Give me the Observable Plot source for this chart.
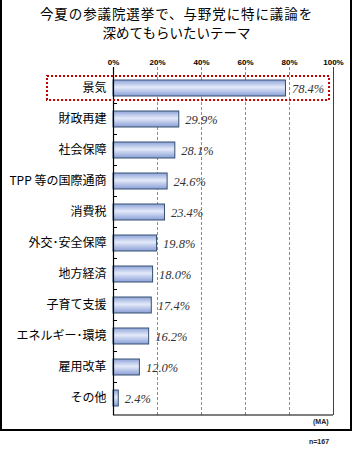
<!DOCTYPE html>
<html><head><meta charset="utf-8">
<script src="https://cdn.jsdelivr.net/npm/d3@7"></script>
<script src="https://cdn.jsdelivr.net/npm/@observablehq/plot@0.6"></script>
<style>
body{margin:0;background:#fff;}
#wrap{position:relative;width:353px;height:451px;font-family:"Noto Sans CJK JP",sans-serif;overflow:hidden;}
#box{position:absolute;left:0;top:-2px;width:352px;height:433px;border:2px solid #000;box-sizing:border-box;}
.title{position:absolute;left:0;width:353px;text-align:center;font-size:13.5px;line-height:19.5px;height:19.5px;color:#000;white-space:nowrap;}
#chart{position:absolute;left:0;top:52px;}
.note{position:absolute;font-family:"Liberation Sans",Arial,sans-serif;font-size:7px;font-weight:bold;color:#222;line-height:8px;}
</style>
</head><body>
<div id="wrap">
  <div id="box"></div>
  <div class="title" style="top:3.75px;letter-spacing:0.9px;">今夏の参議院選挙で、与野党に特に議論を</div>
  <div class="title" style="top:23.25px;">深めてもらいたいテーマ</div>
  <div id="chart"></div>
  <div class="note" id="ma" style="left:313px;top:418px;">(MA)</div>
  <div class="note" id="n" style="left:309px;top:438px;">n=167</div>
</div>
<script>
const categories = ["景気","財政再建","社会保障","TPP 等の国際通商","消費税","外交･安全保障","地方経済","子育て支援","エネルギー･環境","雇用改革","その他"];
const values = [78.4,29.9,28.1,24.6,23.4,19.8,18.0,17.4,16.2,12.0,2.4];
const xTicks = [0,20,40,60,80,100];
const gridTicks = [20,40,60,80];
const highlight = "景気";

const data = categories.map((c,i)=>({category:c,value:values[i]}));

const W = 353, H = 380, MT = 15, MB = 17, ML = 113, MR = 20;

const chart = Plot.plot({
  width: W, height: H, marginTop: MT, marginBottom: MB, marginLeft: ML, marginRight: MR,
  x: {domain: [0,100], axis: null},
  y: {domain: categories, axis: null, paddingInner: 0.49, paddingOuter: 0.245, insetTop: 4.6},
  marks: [
    Plot.ruleX(gridTicks, {stroke: "#8c8c8c", strokeDasharray: "3,2"}),
    Plot.ruleX([100], {stroke: "#404040"}),
    Plot.barX(data, {x: "value", y: "category", fill: "url(#barGrad)", stroke: "#34506f", strokeWidth: 1}),
    Plot.ruleX([0], {stroke: "#000", strokeWidth: 1.2}),
    Plot.text(xTicks, {x: d=>d, frameAnchor: "top", dy: -8, text: d=>d+"%", fontSize: 8, fontWeight: "bold", fill: "#000", fontFamily: "Liberation Sans, Arial, sans-serif"}),
    Plot.text(categories, {y: d=>d, frameAnchor: "left", dx: -7, textAnchor: "end", fontSize: 12, fill: "#000", fontFamily: "Noto Sans CJK JP, sans-serif"}),
    Plot.text(data, {x: "value", y: "category", text: d=>d.value.toFixed(1)+"%", textAnchor: "start", dx: 6, fontSize: 12.5, fontStyle: "italic", fontFamily: "Liberation Serif, serif", fill: "#333"})
  ]
});

const svg = d3.select(chart);
const defs = svg.insert("defs", ":first-child");
const grad = defs.append("linearGradient").attr("id","barGrad").attr("x1",0).attr("y1",0).attr("x2",0).attr("y2",1);
grad.append("stop").attr("offset","0%").attr("stop-color","#8ea4da");
grad.append("stop").attr("offset","45%").attr("stop-color","#e4eaf9");
grad.append("stop").attr("offset","100%").attr("stop-color","#889ed6");

const xs = chart.scale("x"), ys = chart.scale("y");
const x0 = xs.apply(0), x100 = xs.apply(100);
const bw = ys.bandwidth;
const step = ys.apply(categories[1]) - ys.apply(categories[0]);
const extra = svg.append("g");
extra.append("line").attr("x1", x0).attr("x2", x100).attr("y1", H-MB).attr("y2", H-MB).attr("stroke","#000").attr("stroke-width",1.2);
categories.slice(0,-1).forEach(c => {
  const yy = ys.apply(c) + bw/2 + step/2;
  extra.append("line").attr("x1", x0).attr("x2", x0+4).attr("y1", yy).attr("y2", yy).attr("stroke","#000").attr("stroke-width",1);
});
const cy = ys.apply(highlight) + bw/2;
extra.append("rect")
  .attr("x", x0-66).attr("y", cy-12)
  .attr("width", xs.apply(98.2) - (x0-66)).attr("height", 24)
  .attr("fill","none").attr("stroke","#c00000").attr("stroke-width",2).attr("stroke-dasharray","2,2");

document.getElementById("chart").appendChild(chart);
</script>
</body></html>
